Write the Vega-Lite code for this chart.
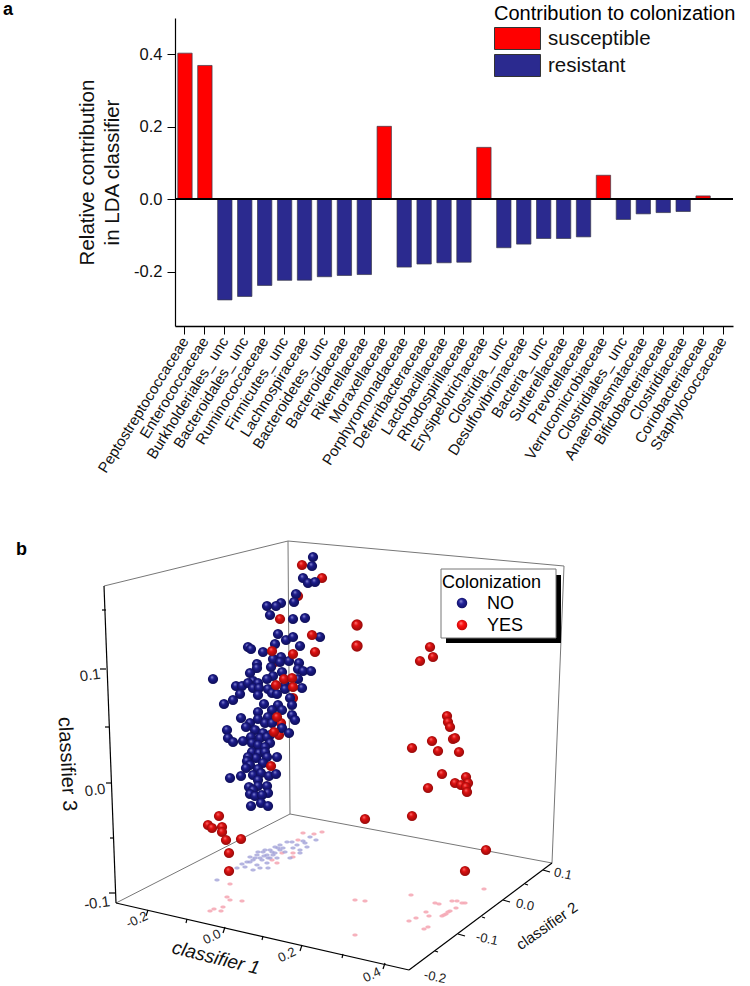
{"$schema":"https://vega.github.io/schema/vega-lite/v6.json","padding":{"left":3,"top":1,"right":0,"bottom":0},"background":"white","bounds":"flush","spacing":194,"config":{"view":{"stroke":null},"font":"Liberation Sans"},
"datasets":{
"bars":[{"family":"Peptostreptococcaceae","value":0.403,"role":"susceptible"},{"family":"Enterococcaceae","value":0.369,"role":"susceptible"},{"family":"Burkholderiales_ unc","value":-0.278,"role":"resistant"},{"family":"Bacteroidales_ unc","value":-0.2685,"role":"resistant"},{"family":"Ruminococcaceae","value":-0.238,"role":"resistant"},{"family":"Firmicutes_ unc","value":-0.224,"role":"resistant"},{"family":"Lachnospiraceae","value":-0.2235,"role":"resistant"},{"family":"Bacteroidetes_ unc","value":-0.214,"role":"resistant"},{"family":"Bacteroidaceae","value":-0.2105,"role":"resistant"},{"family":"Rikenellaceae","value":-0.208,"role":"resistant"},{"family":"Moraxellaceae","value":0.201,"role":"susceptible"},{"family":"Porphyromonadaceae","value":-0.1875,"role":"resistant"},{"family":"Deferribacteraceae","value":-0.179,"role":"resistant"},{"family":"Lactobacillaceae","value":-0.1755,"role":"resistant"},{"family":"Rhodospirillaceae","value":-0.174,"role":"resistant"},{"family":"Erysipelotrichaceae","value":0.143,"role":"susceptible"},{"family":"Clostridia_ unc","value":-0.134,"role":"resistant"},{"family":"Desulfovibrionaceae","value":-0.124,"role":"resistant"},{"family":"Bacteria_ unc","value":-0.1085,"role":"resistant"},{"family":"Sutterellaceae","value":-0.1085,"role":"resistant"},{"family":"Prevotellaceae","value":-0.104,"role":"resistant"},{"family":"Verrucomicrobiaceae","value":0.066,"role":"susceptible"},{"family":"Clostridiales_ unc","value":-0.056,"role":"resistant"},{"family":"Anaeroplasmataceae","value":-0.0405,"role":"resistant"},{"family":"Bifidobacteriaceae","value":-0.037,"role":"resistant"},{"family":"Clostridiaceae","value":-0.034,"role":"resistant"},{"family":"Coriobacteriaceae","value":0.009,"role":"susceptible"},{"family":"Staphylococcaceae","value":0,"role":"susceptible"}],
"no":[[313,557],[312,566],[303,578],[308,583],[315,582],[296,594],[294,602],[281,603],[276,606],[267,606],[270,615],[293,619],[305,618],[278,634],[286,640],[293,637],[320,637],[275,644],[248,647],[251,649],[263,652],[300,646],[281,657],[273,659],[289,661],[257,664],[257,668],[271,667],[280,662],[299,663],[298,669],[303,671],[311,671],[282,672],[250,673],[213,679],[273,676],[267,679],[298,679],[253,681],[236,686],[242,686],[248,683],[258,683],[253,688],[259,688],[285,685],[302,688],[285,689],[268,689],[240,694],[233,700],[224,704],[258,695],[272,693],[277,694],[290,698],[264,704],[278,705],[292,705],[272,710],[282,710],[258,712],[292,715],[295,720],[241,718],[250,723],[258,719],[268,717],[265,723],[246,727],[255,730],[272,723],[282,728],[227,730],[289,733],[263,733],[270,735],[228,738],[233,742],[243,741],[251,737],[260,738],[267,737],[252,743],[258,745],[270,743],[265,747],[252,752],[259,753],[265,752],[277,757],[267,757],[256,758],[248,757],[247,761],[250,765],[263,763],[246,768],[258,769],[230,778],[241,776],[253,775],[261,773],[269,776],[276,774],[258,780],[249,787],[258,786],[267,786],[253,790],[250,794],[255,796],[268,793],[262,795],[251,806],[261,803],[268,806]],
"yesBack":[[298,596],[322,578],[275,662],[293,698],[281,723],[279,735]],
"yes":[[302,565],[280,619],[312,635],[315,652],[272,651],[293,654],[284,679],[292,678],[276,685],[293,687],[277,717],[274,732],[271,766],[430,647],[433,657],[420,661],[447,716],[448,722],[450,727],[453,739],[455,738],[432,741],[438,751],[412,748],[459,752],[442,774],[466,777],[468,783],[455,783],[461,785],[466,787],[467,792],[428,788],[412,816],[365,819],[486,850],[465,871],[219,816],[208,825],[212,828],[222,827],[222,832],[226,840],[241,839],[229,853],[229,871]],
"yesBig":[[357,625],[357,646]],
"shadowYes":[[303,833],[322,832],[314,834],[298,840],[230,884],[227,897],[230,900],[242,901],[223,907],[214,909],[210,911],[221,911],[355,900],[365,901],[355,935],[277,863],[282,853],[293,853],[293,857],[272,860],[484,889],[411,895],[435,903],[439,904],[452,901],[457,901],[465,903],[462,903],[456,908],[450,911],[426,912],[446,914],[442,916],[429,916],[416,918],[409,921],[428,927],[424,929],[444,915],[448,912]],
"shadowNo":[[217,880],[303,841],[310,837],[316,840],[297,845],[287,842],[280,845],[275,847],[293,848],[300,850],[307,847],[270,850],[263,852],[257,855],[250,857],[267,855],[273,855],[260,858],[253,860],[247,862],[242,864],[257,865],[267,863],[268,868],[260,868],[253,870],[237,868],[290,858],[300,853],[285,852],[280,850],[275,853],[270,858],[265,850],[258,852],[262,860],[250,862],[245,867],[272,852],[278,848],[283,848],[268,858],[255,858],[264,856],[292,842],[305,843],[277,858]],
"heavy":[[104,586,116,903],[116,903,409,970],[409,970,552,863],[106,610,102,610],[106,669,100,669],[109,727,105,727],[112,783,106,783],[114,838,110,838],[115,893,109,893],[148,910,146,916],[187,919,186,923],[225,927,223,933],[263,936,262,940],[302,945,300,951],[343,954,342,958],[385,963,383,969],[435,951,438,952],[458,934,465,936],[482,917,485,918],[503,900,510,902],[525,884,528,885],[543,870,550,872]],
"thin":[[104,586,288,541],[288,541,564,566],[288,541,290,814],[564,566,552,863],[116,903,290,814],[290,814,552,863]],
"shadowBox":[{"x":446,"x2":561,"y":575,"y2":643}],
"legendBox":[{"x":441,"x2":556,"y":569,"y2":638}]
},
"vconcat":[
{"width":558,"height":308,"data":{"name":"bars"},"layer":[
{"mark":{"type":"bar","stroke":"#3a3a4a","strokeWidth":0.7},"encoding":{
"x":{"field":"family","type":"nominal","sort":null,"scale":{"paddingInner":0.28,"paddingOuter":0.14},"axis":{"title":null,"labelAngle":-58,"labelAlign":"right","labelBaseline":"middle","labelFontSize":15,"labelColor":"#111","labelPadding":4,"tickSize":8,"tickColor":"#000","domainColor":"#000","domainWidth":1.4,"tickWidth":1,"labelOverlap":false,"labelLimit":300}},
"y":{"field":"value","type":"quantitative","scale":{"domain":[-0.35,0.5],"nice":false,"zero":false},"axis":{"values":[-0.2,0,0.2,0.4],"labelExpr":"replace(format(datum.value,'.1f'),'−','-')","grid":false,"title":["Relative contribution","in LDA classifier"],"titleFontSize":20.5,"titleFontWeight":"normal","titleLineHeight":25,"titlePadding":11,"titleColor":"#111","labelFontSize":16.5,"labelColor":"#111","tickSize":8,"tickColor":"#000","domainColor":"#000","domainWidth":1.2,"labelPadding":5}},
"color":{"field":"role","type":"nominal","scale":{"domain":["susceptible","resistant"],"range":["#ff0000","#2b2a8f"]},"legend":{"title":"Contribution to colonization","orient":"none","legendX":319,"legendY":-14,"padding":0,"titleFontSize":20,"titleFontWeight":"normal","titleColor":"#000","titlePadding":3,"titleLimit":300,"labelFontSize":20.5,"labelColor":"#111","labelOffset":19,"labelLimit":200,"symbolType":"M-2.09,-1H2.09V1H-2.09Z","symbolSize":484,"symbolOffset":12,"symbolOpacity":1,"symbolStrokeColor":"#333","symbolStrokeWidth":1,"rowPadding":0}}
}},
{"mark":{"type":"rule","color":"#000","strokeWidth":1.3},"encoding":{"y":{"datum":0}}}
]},
{"width":575,"height":466,"layer":[
{"data":{"name":"thin"},"mark":{"type":"rule","color":"#777","strokeWidth":1},"encoding":{"x":{"field":"0","type":"quantitative","scale":{"domain":[175,750],"nice":false,"zero":false},"axis":null},"y":{"field":"1","type":"quantitative","scale":{"domain":[986,520],"nice":false,"zero":false},"axis":null},"x2":{"field":"2"},"y2":{"field":"3"}}},
{"data":{"name":"heavy"},"mark":{"type":"rule","color":"#000","strokeWidth":1.2},"encoding":{"x":{"field":"0","type":"quantitative"},"y":{"field":"1","type":"quantitative"},"x2":{"field":"2"},"y2":{"field":"3"}}},
{"data":{"name":"shadowYes"},"mark":{"type":"point","filled":true,"opacity":0.9,"fill":"#f5aab6","shape":"M-1,0A1,0.55 0 1 1 1,0A1,0.55 0 1 1 -1,0Z","size":30},"encoding":{"x":{"field":"0","type":"quantitative"},"y":{"field":"1","type":"quantitative"}}},
{"data":{"name":"shadowNo"},"mark":{"type":"point","filled":true,"opacity":0.8,"fill":"#a3a2d8","shape":"M-1,0A1,0.55 0 1 1 1,0A1,0.55 0 1 1 -1,0Z","size":30},"encoding":{"x":{"field":"0","type":"quantitative"},"y":{"field":"1","type":"quantitative"}}},
{"data":{"name":"yesBack"},"mark":{"type":"point","filled":true,"opacity":1,"size":105,"fill":{"gradient":"radial","x1":0.38,"y1":0.3,"r1":0,"x2":0.5,"y2":0.5,"r2":0.55,"stops":[{"offset":0,"color":"#ff7a7a"},{"offset":0.35,"color":"#e01010"},{"offset":1,"color":"#8c0a0a"}]}},"encoding":{"x":{"field":"0","type":"quantitative"},"y":{"field":"1","type":"quantitative"}}},
{"data":{"name":"no"},"mark":{"type":"point","filled":true,"opacity":1,"size":105,"fill":{"gradient":"radial","x1":0.38,"y1":0.3,"r1":0,"x2":0.5,"y2":0.5,"r2":0.55,"stops":[{"offset":0,"color":"#9a9ae0"},{"offset":0.35,"color":"#1c1c8c"},{"offset":1,"color":"#0c0c50"}]}},"encoding":{"x":{"field":"0","type":"quantitative"},"y":{"field":"1","type":"quantitative"}}},
{"data":{"name":"yes"},"mark":{"type":"point","filled":true,"opacity":1,"size":105,"fill":{"gradient":"radial","x1":0.38,"y1":0.3,"r1":0,"x2":0.5,"y2":0.5,"r2":0.55,"stops":[{"offset":0,"color":"#ff7a7a"},{"offset":0.35,"color":"#e01010"},{"offset":1,"color":"#8c0a0a"}]}},"encoding":{"x":{"field":"0","type":"quantitative"},"y":{"field":"1","type":"quantitative"}}},
{"data":{"name":"yesBig"},"mark":{"type":"point","filled":true,"opacity":1,"size":130,"fill":{"gradient":"radial","x1":0.38,"y1":0.3,"r1":0,"x2":0.5,"y2":0.5,"r2":0.55,"stops":[{"offset":0,"color":"#ff7a7a"},{"offset":0.35,"color":"#e01010"},{"offset":1,"color":"#8c0a0a"}]}},"encoding":{"x":{"field":"0","type":"quantitative"},"y":{"field":"1","type":"quantitative"}}},
{"data":{"name":"shadowBox"},"mark":{"type":"rect","color":"#000"},"encoding":{"x":{"field":"x","type":"quantitative"},"x2":{"field":"x2"},"y":{"field":"y","type":"quantitative"},"y2":{"field":"y2"}}},
{"data":{"name":"legendBox"},"mark":{"type":"rect","fill":"#fff","stroke":"#777","strokeWidth":1},"encoding":{"x":{"field":"x","type":"quantitative"},"x2":{"field":"x2"},"y":{"field":"y","type":"quantitative"},"y2":{"field":"y2"}}},
{"data":{"values":[{"x":462,"y":603}]},"mark":{"type":"point","filled":true,"opacity":1,"size":110,"fill":{"gradient":"radial","x1":0.38,"y1":0.3,"r1":0,"x2":0.5,"y2":0.5,"r2":0.55,"stops":[{"offset":0,"color":"#9a9ae0"},{"offset":0.4,"color":"#22229a"},{"offset":1,"color":"#101060"}]}},"encoding":{"x":{"field":"x","type":"quantitative"},"y":{"field":"y","type":"quantitative"}}},
{"data":{"values":[{"x":462,"y":625}]},"mark":{"type":"point","filled":true,"opacity":1,"size":110,"fill":{"gradient":"radial","x1":0.38,"y1":0.3,"r1":0,"x2":0.5,"y2":0.5,"r2":0.55,"stops":[{"offset":0,"color":"#ff9090"},{"offset":0.4,"color":"#ff1010"},{"offset":1,"color":"#c00808"}]}},"encoding":{"x":{"field":"x","type":"quantitative"},"y":{"field":"y","type":"quantitative"}}},
{"data":{"values":[{"x":442,"y":588,"t":"Colonization"}]},"mark":{"type":"text","align":"left","baseline":"alphabetic","fontSize":18,"color":"#000"},"encoding":{"x":{"field":"x","type":"quantitative"},"y":{"field":"y","type":"quantitative"},"text":{"field":"t"}}},
{"data":{"values":[{"x":487,"y":609,"t":"NO"},{"x":487,"y":631,"t":"YES"}]},"mark":{"type":"text","align":"left","baseline":"alphabetic","fontSize":18,"color":"#000"},"encoding":{"x":{"field":"x","type":"quantitative"},"y":{"field":"y","type":"quantitative"},"text":{"field":"t"}}},
{"data":{"values":[{"x":3,"y":15,"t":"a"},{"x":16,"y":555,"t":"b"}]},"mark":{"type":"text","align":"left","baseline":"alphabetic","fontSize":18,"fontWeight":"bold","color":"#000"},"encoding":{"x":{"field":"x","type":"quantitative"},"y":{"field":"y","type":"quantitative"},"text":{"field":"t"}}},
{"data":{"values":[{"x":90,"y":675,"t":"0.1"},{"x":95,"y":790,"t":"0.0"},{"x":97,"y":903,"t":"-0.1"}]},"mark":{"type":"text","align":"center","baseline":"middle","fontSize":15,"angle":352,"color":"#222"},"encoding":{"x":{"field":"x","type":"quantitative"},"y":{"field":"y","type":"quantitative"},"text":{"field":"t"}}},
{"data":{"values":[{"x":137,"y":920,"t":"-0.2"},{"x":212,"y":937,"t":"0.0"},{"x":287,"y":955,"t":"0.2"},{"x":372,"y":975,"t":"0.4"}]},"mark":{"type":"text","align":"center","baseline":"middle","fontSize":13,"angle":335,"color":"#222"},"encoding":{"x":{"field":"x","type":"quantitative"},"y":{"field":"y","type":"quantitative"},"text":{"field":"t"}}},
{"data":{"values":[{"x":435,"y":977,"t":"-0.2"},{"x":487,"y":939,"t":"-0.1"},{"x":525,"y":905,"t":"0.0"},{"x":563,"y":874,"t":"0.1"}]},"mark":{"type":"text","align":"center","baseline":"middle","fontSize":13,"angle":12,"color":"#222"},"encoding":{"x":{"field":"x","type":"quantitative"},"y":{"field":"y","type":"quantitative"},"text":{"field":"t"}}},
{"data":{"values":[{"x":216,"y":958,"t":"classifier 1"}]},"mark":{"type":"text","align":"center","baseline":"middle","fontSize":19,"fontStyle":"italic","angle":14,"color":"#111"},"encoding":{"x":{"field":"x","type":"quantitative"},"y":{"field":"y","type":"quantitative"},"text":{"field":"t"}}},
{"data":{"values":[{"x":547,"y":926,"t":"classifier 2"}]},"mark":{"type":"text","align":"center","baseline":"middle","fontSize":15,"angle":325,"color":"#111"},"encoding":{"x":{"field":"x","type":"quantitative"},"y":{"field":"y","type":"quantitative"},"text":{"field":"t"}}},
{"data":{"values":[{"x":67,"y":764,"t":"classifier 3"}]},"mark":{"type":"text","align":"center","baseline":"middle","fontSize":20,"angle":87,"color":"#111"},"encoding":{"x":{"field":"x","type":"quantitative"},"y":{"field":"y","type":"quantitative"},"text":{"field":"t"}}}
]}
]}
